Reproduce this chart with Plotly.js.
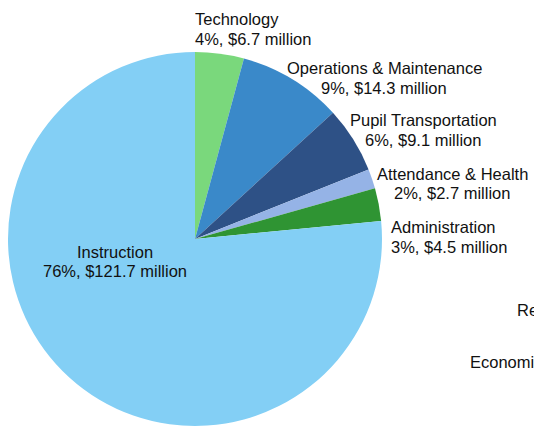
<!DOCTYPE html>
<html>
<head>
<meta charset="utf-8">
<script src="https://cdn.plot.ly/plotly-3.0.1.min.js"></script>
<style>html,body{margin:0;padding:0;background:#fff;overflow:hidden}#chart{width:534px;height:431px}</style>
</head>
<body>
<div id="chart"></div>
<script>
// Data
const categories = ["Technology", "Operations & Maintenance", "Pupil Transportation", "Attendance & Health", "Administration", "Instruction"];
const percents = [4, 9, 6, 2, 3, 76];
const millions = [6.7, 14.3, 9.1, 2.7, 4.5, 121.7];
const sliceColors = ["#7ad87c", "#3a89c9", "#2e5186", "#95b3e6", "#2f9433", "#83cff5"];
const extraLabels = ["Re", "Economi"];

// Label placement (pixels in 534x431 frame): [x, yLine1, yLine2, anchor]
const labelPos = [
  [193, 19, 39, "left"],
  [384, 68, 88, "center"],
  [423, 120, 140, "center"],
  [452, 174, 193, "center"],
  [389, 227, 247, "left"],
  [115, 252, 271, "center"]
];
const extraPos = [[515, 310], [468, 362]];

const W = 534, H = 431;
const px = x => x / W;
const py = y => (H - y) / H;

const cx = 195, cy = 239, r = 187;

const trace = {
  type: "pie",
  labels: categories,
  values: millions,
  sort: false,
  direction: "clockwise",
  rotation: 0,
  marker: { colors: sliceColors, line: { width: 0 } },
  textinfo: "none",
  hoverinfo: "skip",
  showlegend: false,
  domain: { x: [px(cx - r), px(cx + r)], y: [py(cy + r), py(cy - r)] }
};

const font = { family: "'Liberation Sans', Arial, sans-serif", size: 16.5, color: "#111" };
const annotations = [];
categories.forEach((c, i) => {
  const [x, y1, y2, anc] = labelPos[i];
  const line2 = percents[i] + "%, $" + millions[i].toFixed(1) + " million";
  annotations.push({ xref: "paper", yref: "paper", x: px(x), y: py(y1), text: c, showarrow: false, xanchor: anc, yanchor: "middle", font });
  annotations.push({ xref: "paper", yref: "paper", x: px(x), y: py(y2), text: line2, showarrow: false, xanchor: anc, yanchor: "middle", font });
});
extraLabels.forEach((t, i) => {
  annotations.push({ xref: "paper", yref: "paper", x: px(extraPos[i][0]), y: py(extraPos[i][1]), text: t, showarrow: false, xanchor: "left", yanchor: "middle", font });
});

const layout = {
  width: W, height: H,
  margin: { l: 0, r: 0, t: 0, b: 0, pad: 0 },
  paper_bgcolor: "#fff",
  annotations
};

Plotly.newPlot("chart", [trace], layout, { displayModeBar: false, staticPlot: true });
</script>
</body>
</html>
